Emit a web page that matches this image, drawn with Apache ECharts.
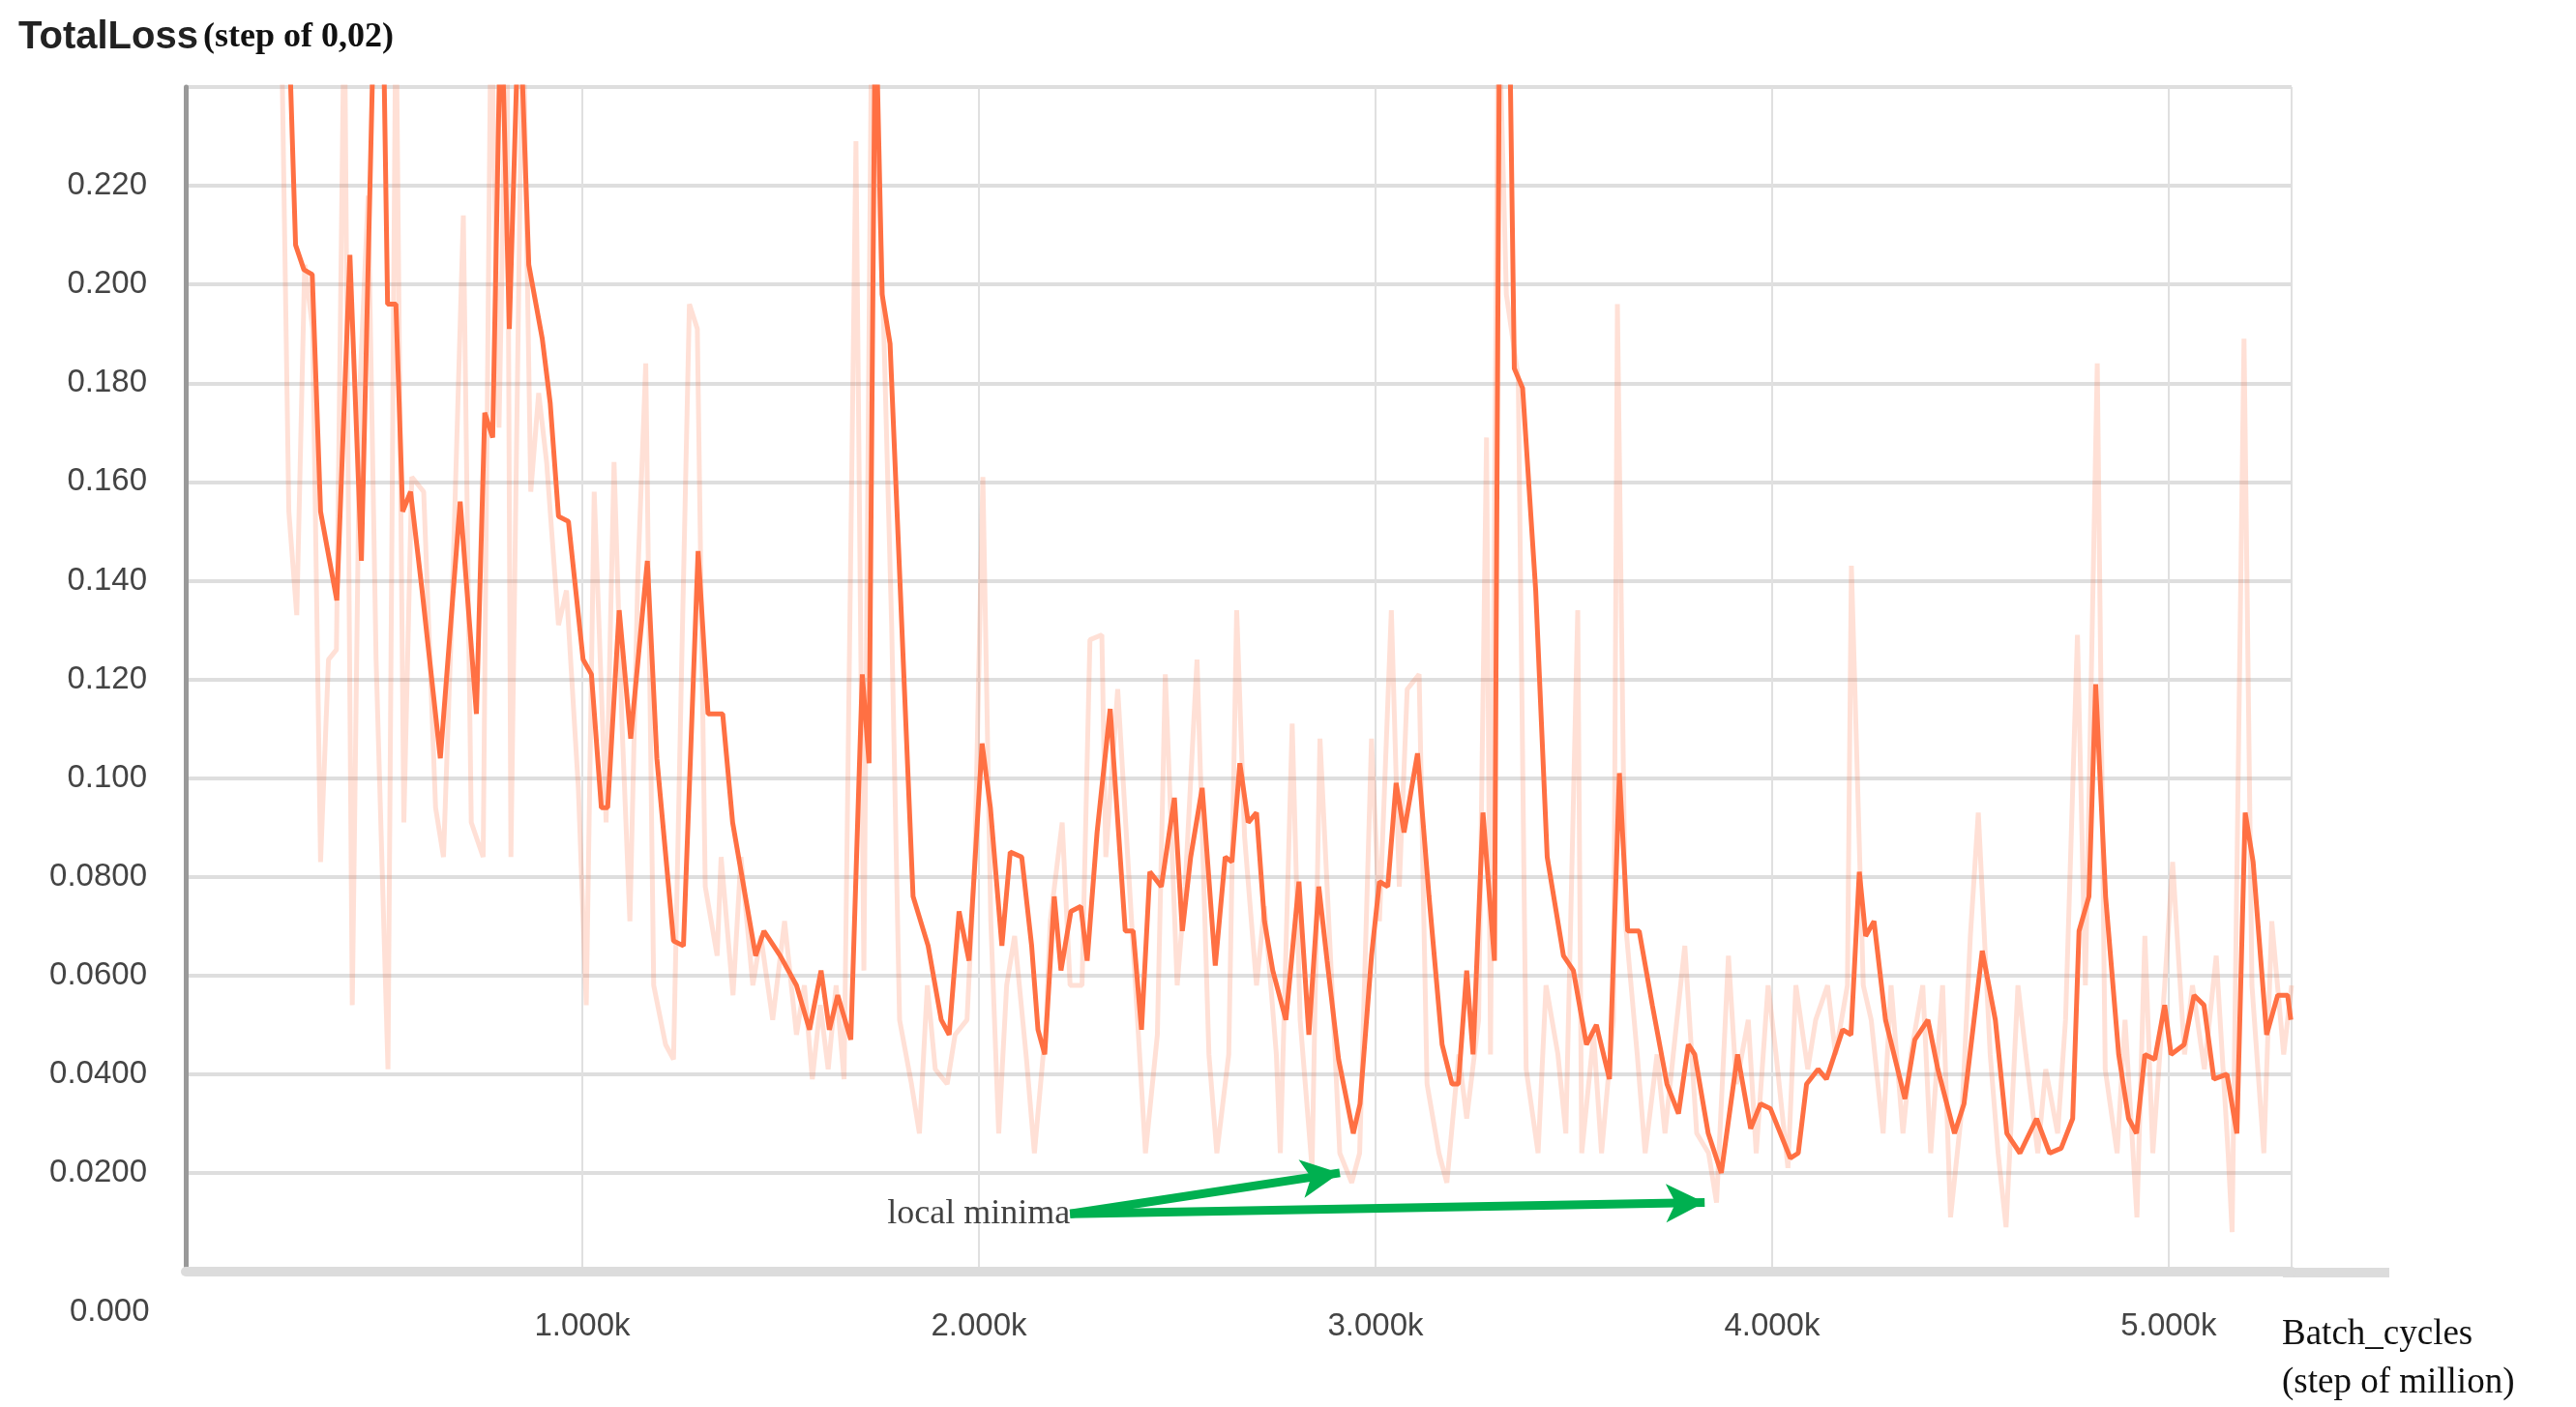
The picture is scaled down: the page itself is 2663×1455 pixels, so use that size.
<!DOCTYPE html>
<html>
<head>
<meta charset="UTF-8">
<title>TotalLoss</title>
<script src="https://cdn.jsdelivr.net/npm/echarts@6/dist/echarts.min.js"></script>
<style>
  html, body { margin: 0; padding: 0; background: #fff; }
  #main { width: 2663px; height: 1455px; }
</style>
</head>
<body>
<div id="main"></div>
<script>
// smoothed loss: [step (k), loss]
var smoothed = [
  [0.257,0.26],[0.277,0.208],[0.298,0.203],[0.319,0.202],[0.340,0.154],[0.381,0.136],[0.414,0.206],[0.443,0.144],
  [0.476,0.26],[0.497,0.26],[0.509,0.196],[0.530,0.196],[0.547,0.154],[0.567,0.158],[0.596,0.138],[0.642,0.104],
  [0.692,0.156],[0.733,0.113],[0.754,0.174],[0.774,0.169],[0.795,0.26],[0.816,0.191],[0.841,0.26],[0.865,0.204],
  [0.899,0.189],[0.919,0.176],[0.940,0.153],[0.965,0.152],[1.002,0.124],[1.023,0.121],[1.048,0.094],[1.064,0.094],
  [1.093,0.134],[1.122,0.108],[1.164,0.144],[1.188,0.104],[1.230,0.067],[1.255,0.066],[1.292,0.146],[1.317,0.113],
  [1.354,0.113],[1.379,0.091],[1.437,0.064],[1.458,0.069],[1.499,0.064],[1.540,0.058],[1.573,0.049],[1.602,0.061],
  [1.623,0.049],[1.644,0.056],[1.677,0.047],[1.706,0.121],[1.723,0.103],[1.739,0.26],[1.756,0.198],[1.776,0.188],
  [1.834,0.076],[1.872,0.066],[1.905,0.051],[1.925,0.048],[1.950,0.073],[1.975,0.063],[2.008,0.107],[2.029,0.094],
  [2.058,0.066],[2.079,0.085],[2.108,0.084],[2.133,0.066],[2.149,0.049],[2.166,0.044],[2.190,0.076],[2.207,0.061],
  [2.232,0.073],[2.257,0.074],[2.273,0.063],[2.298,0.089],[2.331,0.114],[2.369,0.069],[2.389,0.069],[2.410,0.049],
  [2.431,0.081],[2.460,0.078],[2.493,0.096],[2.513,0.069],[2.534,0.084],[2.563,0.098],[2.596,0.062],[2.621,0.084],
  [2.638,0.083],[2.658,0.103],[2.679,0.091],[2.700,0.093],[2.720,0.071],[2.741,0.061],[2.774,0.051],[2.807,0.079],
  [2.832,0.048],[2.857,0.078],[2.878,0.063],[2.907,0.043],[2.944,0.028],[2.961,0.034],[2.990,0.064],[3.010,0.079],
  [3.031,0.078],[3.052,0.099],[3.072,0.089],[3.106,0.105],[3.135,0.076],[3.168,0.046],[3.193,0.038],[3.209,0.038],
  [3.230,0.061],[3.246,0.044],[3.271,0.093],[3.300,0.063],[3.313,0.26],[3.337,0.26],[3.350,0.183],[3.371,0.179],
  [3.404,0.138],[3.433,0.084],[3.474,0.064],[3.499,0.061],[3.532,0.046],[3.557,0.050],[3.590,0.039],[3.615,0.101],
  [3.636,0.069],[3.665,0.069],[3.698,0.054],[3.735,0.038],[3.764,0.032],[3.789,0.046],[3.805,0.044],[3.839,0.028],
  [3.872,0.020],[3.913,0.044],[3.946,0.029],[3.971,0.034],[3.996,0.033],[4.046,0.023],[4.066,0.024],[4.087,0.038],
  [4.116,0.041],[4.137,0.039],[4.178,0.049],[4.199,0.048],[4.220,0.081],[4.236,0.068],[4.257,0.071],[4.286,0.051],
  [4.335,0.035],[4.360,0.047],[4.393,0.051],[4.418,0.041],[4.460,0.028],[4.484,0.034],[4.530,0.065],[4.563,0.051],
  [4.592,0.028],[4.625,0.024],[4.667,0.031],[4.700,0.024],[4.729,0.025],[4.758,0.031],[4.774,0.069],[4.799,0.076],
  [4.816,0.119],[4.841,0.076],[4.874,0.044],[4.899,0.031],[4.919,0.028],[4.940,0.044],[4.965,0.043],[4.990,0.054],
  [5.006,0.044],[5.039,0.046],[5.064,0.056],[5.089,0.054],[5.114,0.039],[5.147,0.040],[5.172,0.028],[5.193,0.093],
  [5.213,0.083],[5.247,0.048],[5.275,0.056],[5.300,0.056],[5.308,0.051]
];
// raw loss: [step (k), loss]
var raw = [
  [0.24,0.26],[0.26,0.154],[0.28,0.133],[0.30,0.204],[0.32,0.191],[0.34,0.083],[0.36,0.124],[0.38,0.126],[0.40,0.26],
  [0.42,0.054],[0.44,0.181],[0.46,0.218],[0.48,0.124],[0.51,0.041],[0.53,0.26],[0.55,0.091],[0.57,0.161],[0.60,0.158],
  [0.63,0.094],[0.65,0.084],[0.67,0.131],[0.70,0.214],[0.72,0.091],[0.75,0.084],[0.77,0.26],[0.79,0.171],[0.81,0.26],
  [0.82,0.084],[0.85,0.26],[0.87,0.158],[0.89,0.178],[0.91,0.164],[0.94,0.131],[0.96,0.138],[0.99,0.098],[1.01,0.054],
  [1.03,0.158],[1.06,0.091],[1.08,0.164],[1.10,0.111],[1.12,0.071],[1.14,0.141],[1.16,0.184],[1.18,0.058],[1.21,0.046],
  [1.23,0.043],[1.25,0.121],[1.27,0.196],[1.29,0.191],[1.31,0.078],[1.34,0.064],[1.35,0.084],[1.38,0.056],[1.40,0.084],
  [1.43,0.058],[1.45,0.068],[1.48,0.051],[1.51,0.071],[1.54,0.048],[1.56,0.058],[1.58,0.039],[1.60,0.054],[1.62,0.041],
  [1.64,0.058],[1.66,0.039],[1.69,0.229],[1.71,0.061],[1.73,0.26],[1.76,0.191],[1.78,0.131],[1.80,0.051],[1.83,0.038],
  [1.85,0.028],[1.87,0.058],[1.89,0.041],[1.92,0.038],[1.94,0.048],[1.97,0.051],[1.99,0.084],[2.01,0.161],[2.03,0.071],
  [2.05,0.028],[2.07,0.058],[2.09,0.068],[2.12,0.043],[2.14,0.024],[2.17,0.051],[2.18,0.071],[2.21,0.091],[2.23,0.058],
  [2.26,0.058],[2.28,0.128],[2.31,0.129],[2.32,0.084],[2.35,0.118],[2.37,0.091],[2.40,0.051],[2.42,0.024],[2.45,0.048],
  [2.47,0.121],[2.50,0.058],[2.52,0.078],[2.55,0.124],[2.58,0.044],[2.60,0.024],[2.63,0.044],[2.65,0.134],[2.67,0.088],
  [2.70,0.058],[2.72,0.074],[2.75,0.044],[2.76,0.024],[2.79,0.111],[2.81,0.051],[2.84,0.021],[2.86,0.108],[2.89,0.058],
  [2.91,0.024],[2.94,0.018],[2.96,0.024],[2.99,0.108],[3.01,0.071],[3.04,0.134],[3.06,0.078],[3.08,0.118],[3.11,0.121],
  [3.13,0.038],[3.16,0.024],[3.18,0.018],[3.21,0.044],[3.23,0.031],[3.26,0.051],[3.28,0.169],[3.29,0.044],[3.31,0.26],
  [3.33,0.198],[3.36,0.181],[3.38,0.041],[3.41,0.024],[3.43,0.058],[3.46,0.044],[3.48,0.028],[3.51,0.134],[3.52,0.024],
  [3.55,0.048],[3.57,0.024],[3.60,0.051],[3.61,0.196],[3.63,0.071],[3.66,0.044],[3.68,0.024],[3.71,0.044],[3.73,0.028],
  [3.76,0.051],[3.78,0.066],[3.81,0.028],[3.84,0.024],[3.86,0.014],[3.89,0.064],[3.91,0.038],[3.94,0.051],[3.96,0.024],
  [3.99,0.058],[4.01,0.044],[4.04,0.021],[4.06,0.058],[4.09,0.041],[4.11,0.051],[4.14,0.058],[4.16,0.044],[4.19,0.058],
  [4.20,0.143],[4.23,0.058],[4.25,0.051],[4.28,0.028],[4.30,0.058],[4.33,0.028],[4.35,0.044],[4.38,0.058],[4.40,0.024],
  [4.43,0.058],[4.45,0.011],[4.48,0.034],[4.50,0.068],[4.52,0.093],[4.55,0.044],[4.57,0.024],[4.59,0.009],[4.62,0.058],
  [4.64,0.044],[4.67,0.024],[4.69,0.041],[4.72,0.028],[4.74,0.051],[4.77,0.129],[4.79,0.058],[4.82,0.184],[4.84,0.041],
  [4.87,0.024],[4.89,0.051],[4.92,0.011],[4.94,0.068],[4.96,0.024],[4.99,0.058],[5.01,0.083],[5.04,0.044],[5.06,0.058],
  [5.09,0.041],[5.12,0.064],[5.15,0.024],[5.16,0.008],[5.19,0.189],[5.21,0.058],[5.24,0.024],[5.26,0.071],[5.29,0.044],
  [5.31,0.058]
];
// annotation: text anchor and arrow tips
var arrowStart = [2.23, 0.0117];
var arrowTips = [[2.91, 0.020], [3.83, 0.014]];

var myChart = echarts.init(document.getElementById('main'));
var serif = '"Liberation Serif", "DejaVu Serif", serif';
var option = {
  backgroundColor: '#fff',
  animation: false,
  grid: { left: 192, right: 294, top: 90, bottom: 139 },
  title: {
    left: 14, top: 14,
    text: '{a|TotalLoss} {b|(step of 0,02)}',
    textStyle: {
      rich: {
        a: { fontFamily: 'Arial, "Liberation Sans", sans-serif', fontSize: 40, color: '#222' },
        b: { fontFamily: serif, fontSize: 36, color: '#111' }
      }
    }
  },
  xAxis: {
    type: 'value', min: 0, max: 5.31, interval: 1,
    name: 'Batch_cycles\n(step of million)',
    nameLocation: 'end', nameGap: -10,
    nameTextStyle: { fontFamily: serif, fontSize: 37, color: '#111', align: 'left', verticalAlign: 'top', lineHeight: 50, padding: [40, 0, 0, 0] },
    axisLine: { show: true, lineStyle: { color: '#dcdcdc', width: 10 } },
    axisTick: { show: false },
    splitLine: { show: true, lineStyle: { color: '#e0e0e0', width: 2 } },
    axisLabel: {
      showMaxLabel: false, margin: 40, fontSize: 33, color: '#444',
      fontFamily: 'Arial, "Liberation Sans", sans-serif',
      formatter: function (v) { return v === 0 ? '' : v.toFixed(3) + 'k'; }
    }
  },
  yAxis: {
    type: 'value', min: 0, max: 0.24, interval: 0.02,
    axisLine: { show: true, lineStyle: { color: '#999', width: 5 } },
    axisTick: { show: false },
    splitLine: { lineStyle: { color: '#dedede', width: 4 } },
    axisLabel: {
      margin: 40, fontSize: 33, color: '#444',
      fontFamily: 'Arial, "Liberation Sans", sans-serif',
      formatter: function (v) {
        var r = Math.round(v * 1000) / 1000;
        if (r === 0 || r >= 0.24) return '';
        return r >= 0.1 ? r.toFixed(3) : r.toFixed(4);
      }
    }
  },
  graphic: [
    { type: 'text', left: 72, top: 1340, style: { text: '0.000', fontSize: 33, fill: '#444', fontFamily: 'Arial, "Liberation Sans", sans-serif' } },
    { type: 'rect', left: 2360, top: 1311, shape: { width: 110, height: 10 }, style: { fill: '#dcdcdc' } }
  ],
  series: [
    {
      type: 'line', data: raw, symbol: 'none', clip: true, z: 1,
      lineStyle: { color: 'rgba(255,112,67,0.22)', width: 5 }
    },
    {
      type: 'line', data: smoothed, symbol: 'none', clip: true, z: 2,
      lineStyle: { color: '#ff7043', width: 5 },
      markLine: {
        silent: true,
        symbol: ['none', 'arrow'], symbolSize: [30, 40],
        lineStyle: { color: '#00b050', width: 9, type: 'solid' },
        label: { show: false },
        data: arrowTips.map(function (t) {
          return [{ coord: arrowStart }, { coord: t }];
        })
      }
    },
    {
      type: 'scatter', data: [arrowStart], symbolSize: 0, z: 3,
      label: {
        show: true, position: 'left', distance: 0,
        formatter: 'local minima',
        fontFamily: serif, fontSize: 36, color: '#111'
      }
    }
  ]
};
myChart.setOption(option);
</script>
</body>
</html>
